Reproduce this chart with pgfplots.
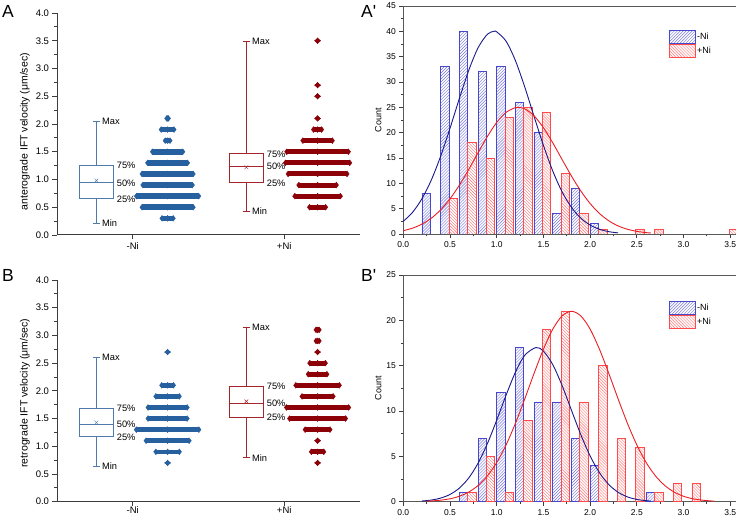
\documentclass[border=0pt]{standalone}
\usepackage{fontspec}
\setmainfont{Liberation Sans}
\usepackage{pgfplots}
\usepackage{pgfplotstable}
\pgfplotsset{compat=1.18}
\usepgfplotslibrary{statistics}
\usetikzlibrary{patterns}

\definecolor{boxblue}{RGB}{78,122,172}
\definecolor{dotblue}{RGB}{38,96,158}
\definecolor{boxred}{RGB}{165,38,42}
\definecolor{dotred}{RGB}{140,0,8}
\definecolor{hbedge}{RGB}{72,72,205}
\definecolor{hbhatch}{RGB}{115,115,220}
\definecolor{hredge}{RGB}{255,75,75}
\definecolor{hrhatch}{RGB}{255,115,115}
\definecolor{fitblue}{RGB}{25,25,140}
\definecolor{fitred}{RGB}{235,30,35}
\definecolor{axisc}{RGB}{60,60,60}

\newcommand{\lblfont}{\fontsize{9.3bp}{10bp}\selectfont}

% velocity bins (bin centre) and counts
\pgfplotstableread{
v n
0.3 8
0.5 33
0.7 40
0.9 32
1.1 33
1.3 26
1.5 20
1.7 4
1.9 9
2.1 2
}\AminusNi
\pgfplotstableread{
v n
0.5 7
0.7 18
0.9 15
1.1 23
1.3 25
1.5 24
1.7 12
1.9 4
2.1 1
2.5 1
2.7 1
3.5 1
}\AplusNi
\pgfplotstableread{
v n
0.7 1
0.9 7
1.1 12
1.3 17
1.5 11
1.7 11
1.9 7
2.1 4
2.7 1
}\BminusNi
\pgfplotstableread{
v n
0.7 1
0.9 5
1.1 1
1.3 9
1.5 19
1.7 21
1.9 11
2.1 15
2.3 7
2.5 6
2.7 1
2.9 2
3.1 2
}\BplusNi

\pgfplotsset{
  boxpanel/.style={
    scale only axis, width=303bp, height=222bp, anchor=south west,
    xmin=0.5, xmax=2.5, ymin=0, ymax=4,
    axis x line*=bottom, axis y line*=left,
    axis line style={-, draw=axisc, line width=1bp},
    every outer x axis line/.append style={-},
    every outer y axis line/.append style={-},
    tick align=outside, tick pos=left,
    major tick length=4.5bp, minor tick length=2.5bp,
    tick style={draw=axisc, line width=0.9bp},
    xtick={1,2}, xticklabels={-Ni,+Ni},
    ytick distance=0.5, minor y tick num=1,
    yticklabel style={/pgf/number format/.cd, fixed, fixed zerofill, precision=1},
    /pgf/number format/assume math mode=true,
    tick label style={font=\fontsize{9.5bp}{11bp}\selectfont},
    boxplot/draw direction=y,
    clip=false,
  },
  histpanel/.style={
    scale only axis, width=333bp, anchor=south west,
    xmin=0, xmax=3.565, ymin=0,
    axis line style={draw=axisc!85, line width=0.9bp},
    tick align=outside, tick pos=left,
    major tick length=4bp, minor tick length=2.5bp,
    tick style={draw=axisc, line width=0.8bp},
    xtick distance=0.5, minor x tick num=1, minor y tick num=1,
    xticklabel style={/pgf/number format/.cd, fixed, fixed zerofill, precision=1},
    /pgf/number format/assume math mode=true,
    tick label style={font=\fontsize{8.5bp}{10bp}\selectfont},
    ylabel={Count},
    ylabel style={at={(axis description cs:-0.075,0.5)}, anchor=center, font=\fontsize{9bp}{10bp}\selectfont},
    legend style={at={(axis description cs:0.797,0.895)}, anchor=north west, draw=none, fill=none,
      font=\fontsize{9bp}{10bp}\selectfont, row sep=0.6bp, inner sep=0pt,
      nodes={inner sep=1.5bp}},
    legend cell align=left,
  },
  hbar/.style={ybar, bar width=0.09, bar shift=0pt, line width=0.8bp, forget plot},
}

\begin{document}
\begin{tikzpicture}
\path[use as bounding box] (0,0) rectangle (736bp,517bp);

% ---------------- Panel A ----------------
\begin{axis}[boxpanel, at={(57bp,282bp)},
  ylabel={anterograde IFT velocity (μm/sec)},
  ylabel style={at={(axis description cs:-0.106,0.465)}, anchor=center, font=\fontsize{10.5bp}{12bp}\selectfont}]
\addplot[boxblue, line width=1bp, solid, boxplot prepared={draw position=0.76, lower whisker=0.21, lower quartile=0.65, median=0.94, upper quartile=1.26, upper whisker=2.04, box extend=0.225, whisker extend=0.05}] coordinates {};
\addplot[only marks, mark=x, mark size=2.6bp, boxblue] coordinates {(0.76,0.98)};
\addplot[boxred, line width=1bp, solid, boxplot prepared={draw position=1.75, lower whisker=0.43, lower quartile=0.94, median=1.23, upper quartile=1.46, upper whisker=3.49, box extend=0.225, whisker extend=0.05}] coordinates {};
\addplot[only marks, mark=x, mark size=2.6bp, boxred] coordinates {(1.75,1.22)};
\addplot[only marks, mark=diamond*, mark size=2.9bp, dotblue,
  error bars/.cd, x dir=both, x explicit, error mark=diamond*,
  error bar style={line width=5.6bp, dotblue}, error mark options={dotblue, mark size=2.9bp}]
  table[x expr=1.23, y=v, x error expr={(\thisrow{n}-1)*0.00527}] {\AminusNi};
\addplot[only marks, mark=diamond*, mark size=2.9bp, dotred,
  error bars/.cd, x dir=both, x explicit, error mark=diamond*,
  error bar style={line width=5bp, dotred}, error mark options={dotred, mark size=2.9bp}]
  table[x expr=2.22, y=v, x error expr={(\thisrow{n}-1)*0.00884}] {\AplusNi};
\node[anchor=west, font=\lblfont, inner sep=1bp] at (axis cs:0.79,2.04) {Max};
\node[anchor=west, font=\lblfont, inner sep=1bp] at (axis cs:0.79,0.21) {Min};
\node[anchor=west, font=\lblfont, inner sep=1bp] at (axis cs:0.8875,1.26) {75\%};
\node[anchor=west, font=\lblfont, inner sep=1bp] at (axis cs:0.8875,0.94) {50\%};
\node[anchor=west, font=\lblfont, inner sep=1bp] at (axis cs:0.8875,0.65) {25\%};
\node[anchor=west, font=\lblfont, inner sep=1bp] at (axis cs:1.78,3.49) {Max};
\node[anchor=west, font=\lblfont, inner sep=1bp] at (axis cs:1.78,0.43) {Min};
\node[anchor=west, font=\lblfont, inner sep=1bp] at (axis cs:1.8775,1.46) {75\%};
\node[anchor=west, font=\lblfont, inner sep=1bp] at (axis cs:1.8775,1.23) {50\%};
\node[anchor=west, font=\lblfont, inner sep=1bp] at (axis cs:1.8775,0.94) {25\%};
\end{axis}

% ---------------- Panel B ----------------
\begin{axis}[boxpanel, at={(57bp,15.3bp)}, height=221.7bp,
  xticklabel style={yshift=3.5bp},
  ylabel={retrograde IFT velocity (μm/sec)},
  ylabel style={at={(axis description cs:-0.106,0.49)}, anchor=center, font=\fontsize{10.5bp}{12bp}\selectfont}]
\addplot[boxblue, line width=1bp, solid, boxplot prepared={draw position=0.76, lower whisker=0.64, lower quartile=1.17, median=1.39, upper quartile=1.68, upper whisker=2.61, box extend=0.225, whisker extend=0.05}] coordinates {};
\addplot[only marks, mark=x, mark size=2.6bp, boxblue] coordinates {(0.76,1.43)};
\addplot[boxred, line width=1bp, solid, boxplot prepared={draw position=1.75, lower whisker=0.79, lower quartile=1.52, median=1.77, upper quartile=2.08, upper whisker=3.14, box extend=0.225, whisker extend=0.05}] coordinates {};
\addplot[only marks, mark=x, mark size=2.6bp, boxred] coordinates {(1.75,1.81)};
\addplot[only marks, mark=diamond*, mark size=2.9bp, dotblue,
  error bars/.cd, x dir=both, x explicit, error mark=diamond*,
  error bar style={line width=4.6bp, dotblue}, error mark options={dotblue, mark size=2.9bp}]
  table[x expr=1.23, y=v, x error expr={(\thisrow{n}-1)*0.0129}] {\BminusNi};
\addplot[only marks, mark=diamond*, mark size=2.9bp, dotred,
  error bars/.cd, x dir=both, x explicit, error mark=diamond*,
  error bar style={line width=4.8bp, dotred}, error mark options={dotred, mark size=2.9bp}]
  table[x expr=2.22, y=v, x error expr={(\thisrow{n}-1)*0.01026}] {\BplusNi};
\node[anchor=west, font=\lblfont, inner sep=1bp] at (axis cs:0.79,2.61) {Max};
\node[anchor=west, font=\lblfont, inner sep=1bp] at (axis cs:0.79,0.64) {Min};
\node[anchor=west, font=\lblfont, inner sep=1bp] at (axis cs:0.8875,1.68) {75\%};
\node[anchor=west, font=\lblfont, inner sep=1bp] at (axis cs:0.8875,1.39) {50\%};
\node[anchor=west, font=\lblfont, inner sep=1bp] at (axis cs:0.8875,1.17) {25\%};
\node[anchor=west, font=\lblfont, inner sep=1bp] at (axis cs:1.78,3.14) {Max};
\node[anchor=west, font=\lblfont, inner sep=1bp] at (axis cs:1.78,0.79) {Min};
\node[anchor=west, font=\lblfont, inner sep=1bp] at (axis cs:1.8775,2.08) {75\%};
\node[anchor=west, font=\lblfont, inner sep=1bp] at (axis cs:1.8775,1.77) {50\%};
\node[anchor=west, font=\lblfont, inner sep=1bp] at (axis cs:1.8775,1.52) {25\%};
\end{axis}

% ---------------- Panel A' ----------------
\begin{axis}[histpanel, at={(403.3bp,283bp)}, height=228bp, ymax=45, ytick distance=5]
\addplot[hbar, draw=hbedge, pattern=north east lines, pattern color=hbhatch]
  table[x expr=\thisrow{v}-0.055, y=n] {\AminusNi};
\addplot[hbar, draw=hredge, pattern=north west lines, pattern color=hrhatch]
  table[x expr=\thisrow{v}+0.035, y=n] {\AplusNi};
\addplot[fitblue, line width=0.9bp, smooth, no marks, forget plot] coordinates {
(0.0,2.50) (0.1,4.30) (0.2,6.98) (0.3,10.66) (0.4,15.36) (0.5,20.87) (0.6,26.73) (0.7,32.27)
(0.8,36.74) (0.9,39.43) (0.97,40.0) (1.0,39.89) (1.1,38.06) (1.2,34.23) (1.3,29.02) (1.4,23.20)
(1.5,17.49) (1.6,12.43) (1.7,8.32) (1.8,5.26) (1.9,3.13) (2.0,1.76) (2.1,0.93) (2.2,0.46) (2.3,0.22)};
\addplot[fitred, line width=0.9bp, smooth, no marks, forget plot] coordinates {
(0.0,0.66) (0.1,1.16) (0.2,1.95) (0.3,3.12) (0.4,4.77) (0.5,6.94) (0.6,9.63) (0.7,12.72)
(0.8,16.03) (0.9,19.24) (1.0,22.02) (1.1,24.00) (1.2,24.95) (1.23,25.0) (1.3,24.71) (1.4,23.32)
(1.5,20.98) (1.6,17.99) (1.7,14.70) (1.8,11.45) (1.9,8.50) (2.0,6.01) (2.1,4.05) (2.2,2.60)
(2.3,1.59) (2.4,0.93) (2.5,0.52) (2.6,0.27) (2.65,0.20)};
\addlegendimage{legend image code/.code={\draw[draw=hbedge, line width=0.8bp, pattern=north east lines, pattern color=hbhatch] (0bp,-6.3bp) rectangle (26bp,6.3bp);}}
\addlegendentry{-Ni}
\addlegendimage{legend image code/.code={\draw[draw=hredge, line width=0.8bp, pattern=north west lines, pattern color=hrhatch] (0bp,-6.3bp) rectangle (26bp,6.3bp);}}
\addlegendentry{+Ni}
\end{axis}

% ---------------- Panel B' ----------------
\begin{axis}[histpanel, at={(403.3bp,15.3bp)}, height=226.7bp, ymax=25, ytick distance=5,
  legend style={at={(axis description cs:0.797,0.885)}}]
\addplot[hbar, draw=hbedge, pattern=north east lines, pattern color=hbhatch]
  table[x expr=\thisrow{v}-0.055, y=n] {\BminusNi};
\addplot[hbar, draw=hredge, pattern=north west lines, pattern color=hrhatch]
  table[x expr=\thisrow{v}+0.035, y=n] {\BplusNi};
\addplot[fitblue, line width=0.9bp, smooth, no marks, forget plot] coordinates {
(0.2,0.08) (0.3,0.18) (0.4,0.40) (0.5,0.80) (0.6,1.50) (0.7,2.61) (0.8,4.24) (0.9,6.40)
(1.0,8.99) (1.1,11.74) (1.2,14.27) (1.3,16.14) (1.42,17.0) (1.5,16.61) (1.6,15.12) (1.7,12.81)
(1.8,10.09) (1.9,7.40) (2.0,5.04) (2.1,3.20) (2.2,1.89) (2.3,1.04) (2.4,0.53) (2.5,0.25)
(2.6,0.11) (2.65,0.07)};
\addplot[fitred, line width=0.9bp, smooth, no marks, forget plot] coordinates {
(0.25,0.06) (0.3,0.08) (0.4,0.17) (0.5,0.32) (0.6,0.60) (0.7,1.06) (0.8,1.78) (0.9,2.84)
(1.0,4.32) (1.1,6.26) (1.2,8.63) (1.3,11.33) (1.4,14.15) (1.5,16.81) (1.6,19.03) (1.7,20.49)
(1.8,21.0) (1.9,20.49) (2.0,19.03) (2.1,16.81) (2.2,14.15) (2.3,11.33) (2.4,8.63) (2.5,6.26)
(2.6,4.32) (2.7,2.84) (2.8,1.78) (2.9,1.06) (3.0,0.60) (3.1,0.32) (3.2,0.17) (3.3,0.08) (3.33,0.065)};
\addlegendimage{legend image code/.code={\draw[draw=hbedge, line width=0.8bp, pattern=north east lines, pattern color=hbhatch] (0bp,-6.3bp) rectangle (26bp,6.3bp);}}
\addlegendentry{-Ni}
\addlegendimage{legend image code/.code={\draw[draw=hredge, line width=0.8bp, pattern=north west lines, pattern color=hrhatch] (0bp,-6.3bp) rectangle (26bp,6.3bp);}}
\addlegendentry{+Ni}
\end{axis}

% panel letters
\node[anchor=base west, inner sep=0pt, font=\fontsize{17.5bp}{20bp}\selectfont] at (2bp,499bp) {A};
\node[anchor=base west, inner sep=0pt, font=\fontsize{17.5bp}{20bp}\selectfont] at (361bp,499bp) {A\textquotesingle};
\node[anchor=base west, inner sep=0pt, font=\fontsize{17.5bp}{20bp}\selectfont] at (2bp,235bp) {B};
\node[anchor=base west, inner sep=0pt, font=\fontsize{17.5bp}{20bp}\selectfont] at (361bp,235bp) {B\textquotesingle};
\end{tikzpicture}
\end{document}
